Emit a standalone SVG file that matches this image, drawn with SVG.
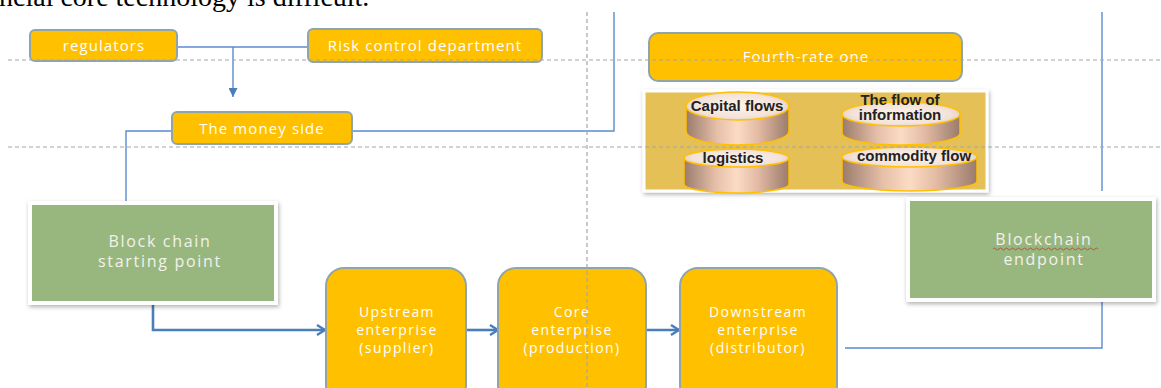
<svg xmlns="http://www.w3.org/2000/svg" width="1161" height="388" viewBox="0 0 1161 388">
<defs>
<style>
.hdr{font-family:"Liberation Serif","Times New Roman",serif;font-size:28px;fill:#000}
.yb{fill:#FFC000;stroke:#8FA5AA;stroke-width:2}
.wt{font-family:"Open Sans","DejaVu Sans",sans-serif;font-size:15px;fill:#FFFFFF;letter-spacing:1.1px;text-anchor:middle}
.wb{font-family:"Open Sans","DejaVu Sans",sans-serif;font-size:14px;fill:#FFFFFF;letter-spacing:1.4px;text-anchor:middle}
.gt{font-family:"Open Sans","DejaVu Sans",sans-serif;font-size:16px;fill:#F2F2EA;letter-spacing:1.7px;text-anchor:middle}
.gb{fill:#98B77F;stroke:#FFFFFF;stroke-width:4}
.ct{font-family:"Liberation Sans",Arial,sans-serif;font-size:15px;font-weight:bold;fill:#222222;text-anchor:middle}
.thin{fill:none;stroke:#5B8BD0;stroke-width:1.4}
.thick{fill:none;stroke:#4A7EBB;stroke-width:2.6}
.dash{fill:none;stroke:#A6A6A6;stroke-width:1.2;stroke-dasharray:4 3}
.cylb{fill:url(#body);stroke:#FFC000;stroke-width:1.5}
.cylt{fill:url(#top);stroke:#FFC000;stroke-width:1.5}
</style>
<linearGradient id="body" x1="0" y1="0" x2="1" y2="0">
<stop offset="0" stop-color="#9A7B6C"/>
<stop offset="0.3" stop-color="#E6BFA8"/>
<stop offset="0.5" stop-color="#FCDBC5"/>
<stop offset="0.7" stop-color="#E3BBA4"/>
<stop offset="1" stop-color="#9A7B6C"/>
</linearGradient>
<radialGradient id="top" cx="0.5" cy="0.5" r="0.6">
<stop offset="0" stop-color="#FFF4EC"/>
<stop offset="0.7" stop-color="#F3E2D8"/>
<stop offset="1" stop-color="#D9C2B8"/>
</radialGradient>
<filter id="sh" x="-10%" y="-10%" width="125%" height="130%">
<feDropShadow dx="1" dy="2" stdDeviation="2" flood-color="#000" flood-opacity="0.3"/>
</filter>
<marker id="chev" viewBox="0 0 10 12" refX="9" refY="6" markerWidth="10" markerHeight="12" markerUnits="userSpaceOnUse" orient="auto">
<path d="M1,1 L9,6 L1,11" fill="none" stroke="#4A7EBB" stroke-width="2.4"/>
</marker>
<marker id="tri" viewBox="0 0 10 10" refX="10" refY="5" markerWidth="9" markerHeight="9" markerUnits="userSpaceOnUse" orient="auto">
<path d="M0,0 L10,5 L0,10 Z" fill="#4A7EBB"/>
</marker>
</defs>
<rect x="0" y="0" width="1161" height="388" fill="#FFFFFF"/>
<text class="hdr" x="-1" y="6">ncial core technology is difficult.</text>

<g id="connectors">
<path class="thin" d="M177,47 L308,47"/>
<path class="thin" d="M233,47 L233,97" marker-end="url(#tri)"/>
<path class="thin" d="M172,131 L126,131 L126,203"/>
<path class="thin" d="M352,131 L614,131 L614,12"/>
<path class="thin" d="M1102,12 L1102,191"/>
<path class="thin" d="M1102,301 L1102,348 L845,348"/>
<path class="thick" d="M153,305 L153,330 L325,330" marker-end="url(#chev)"/>
<path class="thick" d="M466,330 L498,330" marker-end="url(#chev)"/>
<path class="thick" d="M646,330 L679,330" marker-end="url(#chev)"/>
</g>

<g id="regulators">
<rect class="yb" x="30" y="30" width="147" height="31" rx="5"/>
<text class="wt" x="104" y="51">regulators</text>
</g>
<g id="risk-control">
<rect class="yb" x="308" y="29" width="234" height="33" rx="5"/>
<text class="wt" x="425" y="51">Risk control department</text>
</g>
<g id="money-side">
<rect class="yb" x="172" y="112" width="180" height="32" rx="5"/>
<text class="wt" x="262" y="134">The money side</text>
</g>
<g id="fourth-rate">
<rect class="yb" x="649" y="33" width="313" height="48" rx="9"/>
<text class="wt" x="806" y="62">Fourth-rate one</text>
</g>

<g id="flows-panel">
<rect x="644" y="91" width="343" height="100" fill="#E4C056" stroke="#FFFFFF" stroke-width="3" filter="url(#sh)"/>
<g id="capital-flows">
<path class="cylb" d="M686,106 L686,131 A51.5,14 0 0 0 789,131 L789,106 Z"/>
<ellipse class="cylt" cx="737.5" cy="106" rx="51.5" ry="14"/>
<text class="ct" x="737" y="111">Capital flows</text>
</g>
<g id="information-flow">
<path class="cylb" d="M842,114 L842,133 A59,12 0 0 0 960,133 L960,114 Z"/>
<ellipse class="cylt" cx="901" cy="114" rx="59" ry="12"/>
<text class="ct" x="900" y="105">The flow of</text>
<text class="ct" x="900" y="120">information</text>
</g>
<g id="logistics">
<path class="cylb" d="M684,158 L684,184 A52.5,9 0 0 0 789,184 L789,158 Z"/>
<ellipse class="cylt" cx="736.5" cy="158" rx="52.5" ry="9"/>
<text class="ct" x="733" y="163">logistics</text>
</g>
<g id="commodity-flow">
<path class="cylb" d="M842,157 L842,181 A67.5,10 0 0 0 977,181 L977,157 Z"/>
<ellipse class="cylt" cx="909.5" cy="157" rx="67.5" ry="10"/>
<text class="ct" x="914" y="161">commodity flow</text>
</g>
</g>

<g id="start-point">
<rect class="gb" x="30" y="203" width="246" height="100" filter="url(#sh)"/>
<text class="gt" x="160" y="247">Block chain</text>
<text class="gt" x="160" y="267">starting point</text>
</g>
<g id="endpoint">
<rect class="gb" x="908" y="199" width="246" height="101" filter="url(#sh)"/>
<text class="gt" x="1044" y="245">Blockchain</text>
<text class="gt" x="1044" y="265">endpoint</text>
<path d="M993,249 q1.5,-2 3,0 t3,0 t3,0 t3,0 t3,0 t3,0 t3,0 t3,0 t3,0 t3,0 t3,0 t3,0 t3,0 t3,0 t3,0 t3,0 t3,0 t3,0 t3,0 t3,0 t3,0 t3,0 t3,0 t3,0 t3,0 t3,0 t3,0 t3,0 t3,0 t3,0 t3,0 t3,0 t3,0 t3,0 t3,0" fill="none" stroke="#E04040" stroke-width="1"/>
</g>

<g id="upstream">
<rect class="yb" x="326" y="268" width="140" height="135" rx="18"/>
<text class="wb" x="397" y="317">Upstream</text>
<text class="wb" x="397" y="335">enterprise</text>
<text class="wb" x="397" y="353">(supplier)</text>
</g>
<g id="core">
<rect class="yb" x="498" y="268" width="148" height="135" rx="18"/>
<text class="wb" x="572" y="317">Core</text>
<text class="wb" x="572" y="335">enterprise</text>
<text class="wb" x="572" y="353">(production)</text>
</g>
<g id="downstream">
<rect class="yb" x="680" y="268" width="157" height="135" rx="18"/>
<text class="wb" x="758" y="317">Downstream</text>
<text class="wb" x="758" y="335">enterprise</text>
<text class="wb" x="758" y="353">(distributor)</text>
</g>

<g id="guides">
<path class="dash" d="M8,60 L1161,60"/>
<path class="dash" d="M8,147 L1161,147"/>
<path class="dash" d="M587,12 L587,388"/>
</g>
</svg>
